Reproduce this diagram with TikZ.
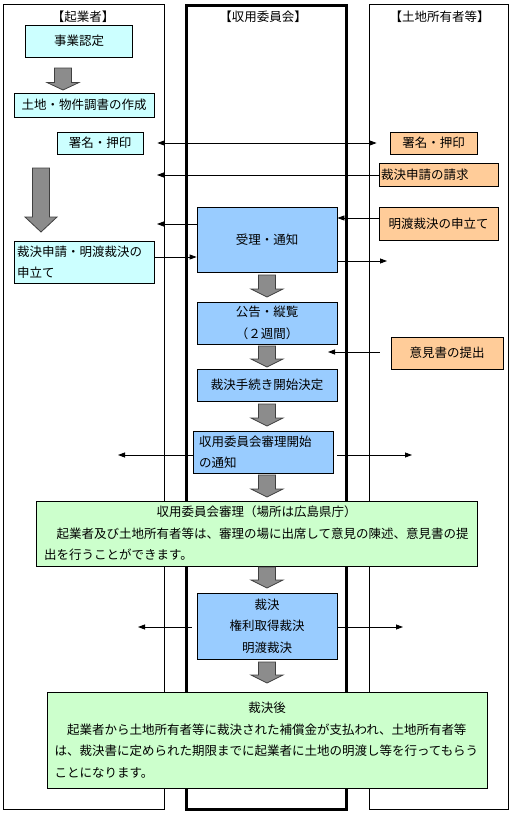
\documentclass[tikz,border=0pt]{standalone}
\usepackage{fontspec}
\setmainfont{Noto Sans CJK JP}
\usetikzlibrary{arrows.meta}
\definecolor{kigyocyan}{HTML}{CCFFFF}
\definecolor{iinblue}{HTML}{99CCFF}
\definecolor{shoyuorange}{HTML}{FFCC99}
\definecolor{notegreen}{HTML}{CCFFCC}
\definecolor{flowgray}{HTML}{8C8C8C}
\definecolor{flowedge}{HTML}{404040}
% big gray arrow: centre x, top y, bottom y, head length
\newcommand{\blockarrow}[4]{%
  \draw[flow] (#1-8.5,#2) -- (#1+8.5,#2) -- (#1+8.5,#3-#4) -- (#1+16,#3-#4)
    -- (#1,#3) -- (#1-16,#3-#4) -- (#1-8.5,#3-#4) -- cycle;}

\begin{document}
\begin{tikzpicture}[x=1pt,y=-1pt,>={Triangle[length=7pt,width=5pt]},
  every node/.style={font=\fontsize{12.5}{21.5}\selectfont},
  lane/.style={draw,line width=0.8pt},
  box/.style={draw,line width=0.8pt,inner sep=0pt,align=center},
  kigyo/.style={box,fill=kigyocyan},
  iinkai/.style={box,fill=iinblue},
  shoyu/.style={box,fill=shoyuorange},
  note/.style={box,fill=notegreen,align=left,inner ysep=0pt},
  link/.style={->,line width=0.8pt},
  flow/.style={fill=flowgray,draw=flowedge,line width=0.8pt}]
  \useasboundingbox (0,0) rectangle (512,814);

  % swim lanes
  \draw[lane] (3,4) rectangle (164.5,809);
  \draw[lane,line width=2.5pt] (186.5,5.5) rectangle (346.5,809.5);
  \draw[lane] (369.5,4) rectangle (508,809);
  \node (hkigyo) at (83,16.5) {【起業者】};
  \node (hiinkai) at (263,16.5) {【収用委員会】};
  \node (hshoyu) at (439.5,16.5) {【土地所有者等】};

  % 起業者
  \node[kigyo,minimum width=107pt,minimum height=32pt] (jigyo) at (79.2,41) {事業認定};
  \node[kigyo,minimum width=140pt,minimum height=24pt] (chosa) at (84,105) {土地・物件調書の作成};
  \node[kigyo,minimum width=86pt,minimum height=22pt] (shomeiL) at (100,143) {署名・押印};
  \node[kigyo,align=left,text width=134pt,inner xsep=3pt,minimum height=42pt] (shinsei) at (84,262)
    {裁決申請・明渡裁決の\\申立て};

  % 収用委員会
  \node[iinkai,minimum width=140pt,minimum height=65pt] (juri) at (267,239.5) {受理・通知};
  \node[iinkai,minimum width=140pt,minimum height=42pt] (kokoku) at (267,323) {公告・縦覧\\（２週間）};
  \node[iinkai,minimum width=140pt,minimum height=32pt] (kaishi) at (267,385) {裁決手続き開始決定};
  \node[iinkai,align=left,text width=128pt,inner xsep=6pt,minimum height=42pt] (tsuchi) at (263,452)
    {収用委員会審理開始\\の通知};
  \node[note,text width=425pt,inner xsep=8pt,minimum height=65pt] (shinri) at (256.5,533.5)
    {\makebox[425pt]{収用委員会審理（場所は広島県庁）}\\
     　起業者及び土地所有者等は、審理の場に出席して意見の陳述、意見書の提\\
     出を行うことができます。};
  \node[iinkai,minimum width=140pt,minimum height=66pt] (saiketsu) at (267,626) {裁決\\権利取得裁決\\明渡裁決};
  \node[note,text width=425pt,inner xsep=7.5pt,minimum height=96pt] (saigo) at (267,740)
    {\makebox[425pt]{裁決後}\\
     　起業者から土地所有者等に裁決された補償金が支払われ、土地所有者等\\
     は、裁決書に定められた期限までに起業者に土地の明渡し等を行ってもらう\\
     ことになります。};

  % 土地所有者等
  \node[shoyu,minimum width=87pt,minimum height=22pt] (shomeiR) at (433.5,143) {署名・押印};
  \node[shoyu,align=left,text width=115pt,inner xsep=2pt,minimum height=23pt] (seikyu) at (438.5,174.5) {裁決申請の請求};
  \node[shoyu,minimum width=119pt,minimum height=33pt] (moshitate) at (438.5,223.5) {明渡裁決の申立て};
  \node[shoyu,minimum width=112pt,minimum height=32pt] (iken) at (447,353) {意見書の提出};

  % free ends
  \coordinate (seikyuTip) at (157,175);
  \coordinate (juriTipL) at (157,224);
  \coordinate (juriTipR) at (387,261);
  \coordinate (ikenTip) at (328,352);
  \coordinate (tsuchiTipL) at (118,455);
  \coordinate (tsuchiTipR) at (412,455);
  \coordinate (saiketsuTipL) at (138,627);
  \coordinate (saiketsuTipR) at (403,627);

  % gray flow arrows
  \blockarrow{63}{68}{90}{7.5}
  \blockarrow{41}{168}{232}{15}
  \blockarrow{267}{275}{297}{8}
  \blockarrow{267}{346}{367}{8}
  \blockarrow{267}{404}{426}{8}
  \blockarrow{267}{475}{497}{8}
  \blockarrow{267}{567}{588}{8}
  \blockarrow{267}{662}{683}{8}

  % thin connectors
  \draw[link,<->,shorten <=14pt,shorten >=13pt] (shomeiL) -- (shomeiR);
  \draw[link] (seikyu.west |- seikyuTip) -- (seikyuTip);
  \draw[link] (juri.west |- juriTipL) -- (juriTipL);
  \draw[link] (shinsei.east |- 0,257) -- (juri.west |- 0,257);
  \draw[link] (moshitate.west |- 0,218) -- (juri.east |- 0,218);
  \draw[link] (juri.east |- juriTipR) -- (juriTipR);
  \draw[link,shorten <=11pt] (iken.west |- ikenTip) -- (ikenTip);
  \draw[link] (tsuchi.west |- tsuchiTipL) -- (tsuchiTipL);
  \draw[link,shorten <=4pt] (tsuchi.east |- tsuchiTipR) -- (tsuchiTipR);
  \draw[link,shorten <=5pt] (saiketsu.west |- saiketsuTipL) -- (saiketsuTipL);
  \draw[link] (saiketsu.east |- saiketsuTipR) -- (saiketsuTipR);
\end{tikzpicture}
\end{document}
